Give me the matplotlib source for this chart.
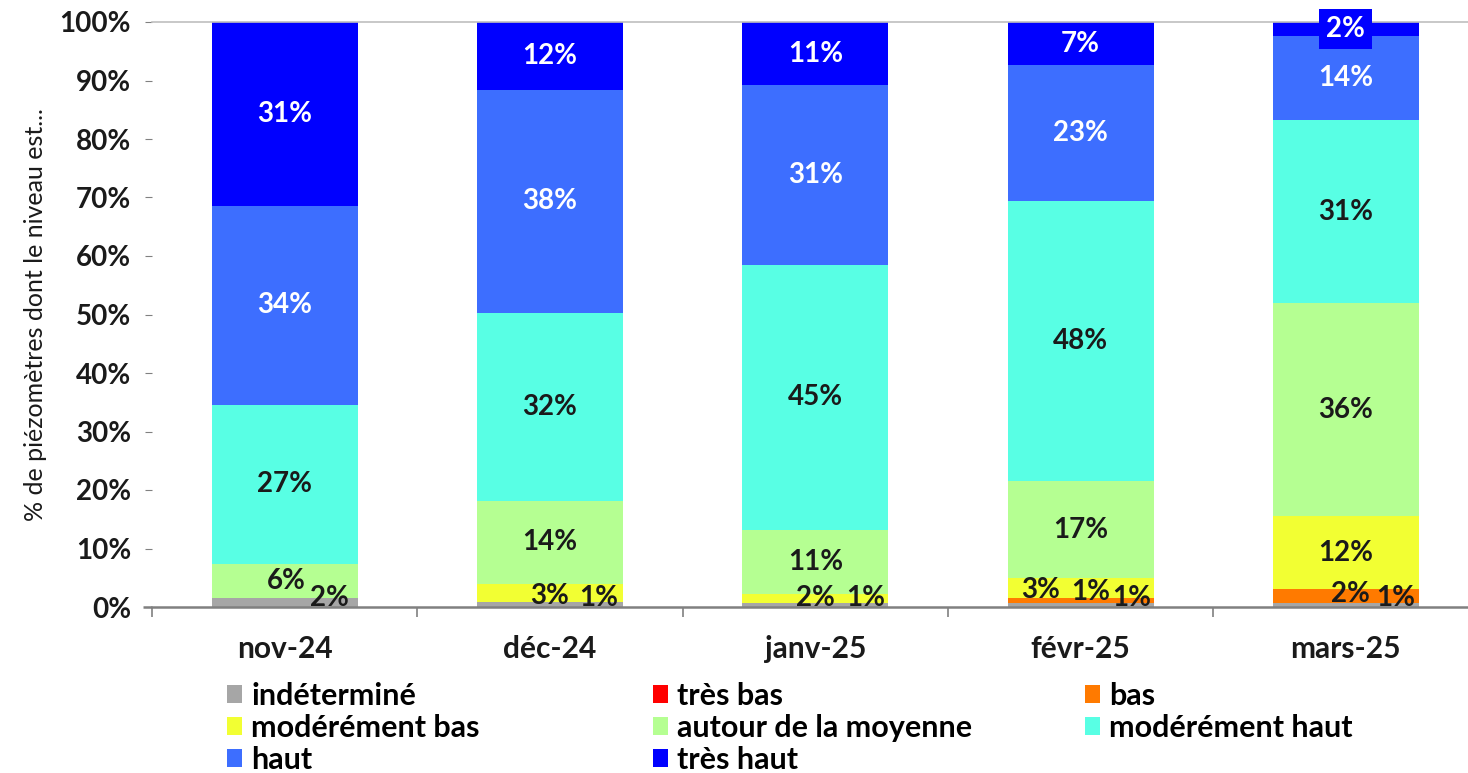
import matplotlib
matplotlib.use("Agg")
import matplotlib.pyplot as plt
from matplotlib.patches import Patch

plt.rcParams['font.family'] = ['Lato', 'DejaVu Sans']

categories = ["nov-24", "déc-24", "janv-25", "févr-25", "mars-25"]
series_names = ["indéterminé", "très bas", "bas", "modérément bas",
                "autour de la moyenne", "modérément haut", "haut", "très haut"]

indetermine      = [1.6, 0.8, 0.7, 0.7, 0.7]
tres_bas         = [0.0, 0.0, 0.0, 0.0, 0.0]
bas              = [0.0, 0.0, 0.0, 0.9, 2.4]
moderement_bas   = [0.0, 3.2, 1.6, 3.3, 12.4]
autour_moyenne   = [5.8, 14.1, 10.9, 16.6, 36.4]
moderement_haut  = [27.2, 32.2, 45.3, 47.9, 31.4]
haut             = [34.0, 38.1, 30.7, 23.2, 14.3]
tres_haut        = [31.4, 11.6, 10.8, 7.4, 2.4]

series = [indetermine, tres_bas, bas, moderement_bas, autour_moyenne,
          moderement_haut, haut, tres_haut]
colors = ["#A6A6A6", "#FF0000", "#FF7A00", "#F2FF33", "#B5FF92",
          "#58FFE4", "#3D6EFF", "#0000FF"]
label_colors = ["#1a1a1a"] * 6 + ["white", "white"]

# offsets (points) for small-segment labels: (cat, series) -> (dx, dy)
offsets = {
    (0, 0): (32, 3), (0, 4): (1, 0),
    (1, 0): (35, 4.5), (1, 3): (0, -2),
    (2, 0): (36, 5), (2, 3): (0, 0.5),
    (3, 0): (37, 5), (3, 2): (7, 6), (3, 3): (-28.5, -1.5),
    (4, 0): (36, 5), (4, 2): (3, 1.5),
}

fig = plt.figure(figsize=(14.68, 7.73), dpi=100)
ax = fig.add_axes([152/1468, 1-607/773, 1-152/1468, (607-22)/773])

x = list(range(len(categories)))
bottom = [0.0] * len(categories)
width = 0.55
for si, vals in enumerate(series):
    ax.bar(x, vals, width, bottom=bottom, color=colors[si], edgecolor='none',
           zorder=2)
    for ci, v in enumerate(vals):
        if v > 0:
            dx, dy = offsets.get((ci, si), (0, 0))
            kw = {}
            if si == 7 and ci == 4:
                kw['bbox'] = dict(facecolor=colors[7], edgecolor='none', pad=5)
            ax.annotate(f"{v:.0f}%", (ci, bottom[ci] + v / 2),
                        xytext=(dx, dy), textcoords='offset points',
                        ha='center', va='center', fontsize=20,
                        fontweight='bold', color=label_colors[si],
                        zorder=5, **kw)
    bottom = [b + v for b, v in zip(bottom, vals)]

ax.set_xlim(-0.5, -0.5 + (1468 - 152) / 265.3)
ax.set_ylim(0, 100)
ax.set_yticks(range(0, 101, 10))
ax.set_yticklabels([f"{t}%" for t in range(0, 101, 10)], fontsize=20,
                   fontweight='bold', color='#1a1a1a')
ax.set_xticks(x)
ax.set_xticklabels(categories, fontsize=21.5, fontweight='bold', color='#1a1a1a')
ax.set_xticks([i - 0.5 for i in range(len(categories))], minor=True)
ax.tick_params(axis='x', which='major', length=0, pad=20)
ax.tick_params(axis='x', which='minor', length=7, color='#808080', width=1.2)
ax.tick_params(axis='y', length=5, color='#808080', pad=10)

for s in ['left', 'right']:
    ax.spines[s].set_visible(False)
ax.spines['top'].set_color('#BFBFBF')
ax.spines['top'].set_linewidth(1.2)
ax.spines['bottom'].set_color('#808080')
ax.spines['bottom'].set_linewidth(1.8)
ax.spines['bottom'].set_zorder(6)
# short extension of the category axis to the left
ax.plot([-0.535, -0.5], [0, 0], color='#808080', lw=1.8, clip_on=False,
        zorder=6, solid_capstyle='butt')

ax.set_ylabel("% de piézomètres dont le niveau est...", fontsize=18,
              color='#1a1a1a', labelpad=9)

# legend in three fixed columns
cols = [[0, 3, 6], [1, 4, 7], [2, 5]]
col_x = [227, 653, 1085]
for cx, idxs in zip(col_x, cols):
    handles = [Patch(facecolor=colors[i], edgecolor='none') for i in idxs]
    labels = [series_names[i] for i in idxs]
    fig.legend(handles, labels, loc='upper left',
               bbox_to_anchor=(cx / 1468, 1 - 682 / 773), frameon=False,
               prop={'weight': 'bold', 'size': 22},
               handlelength=0.5, handleheight=0.5, handletextpad=0.3,
               labelspacing=0.13, borderaxespad=0, borderpad=0)

fig.savefig("out.png", dpi=100)
